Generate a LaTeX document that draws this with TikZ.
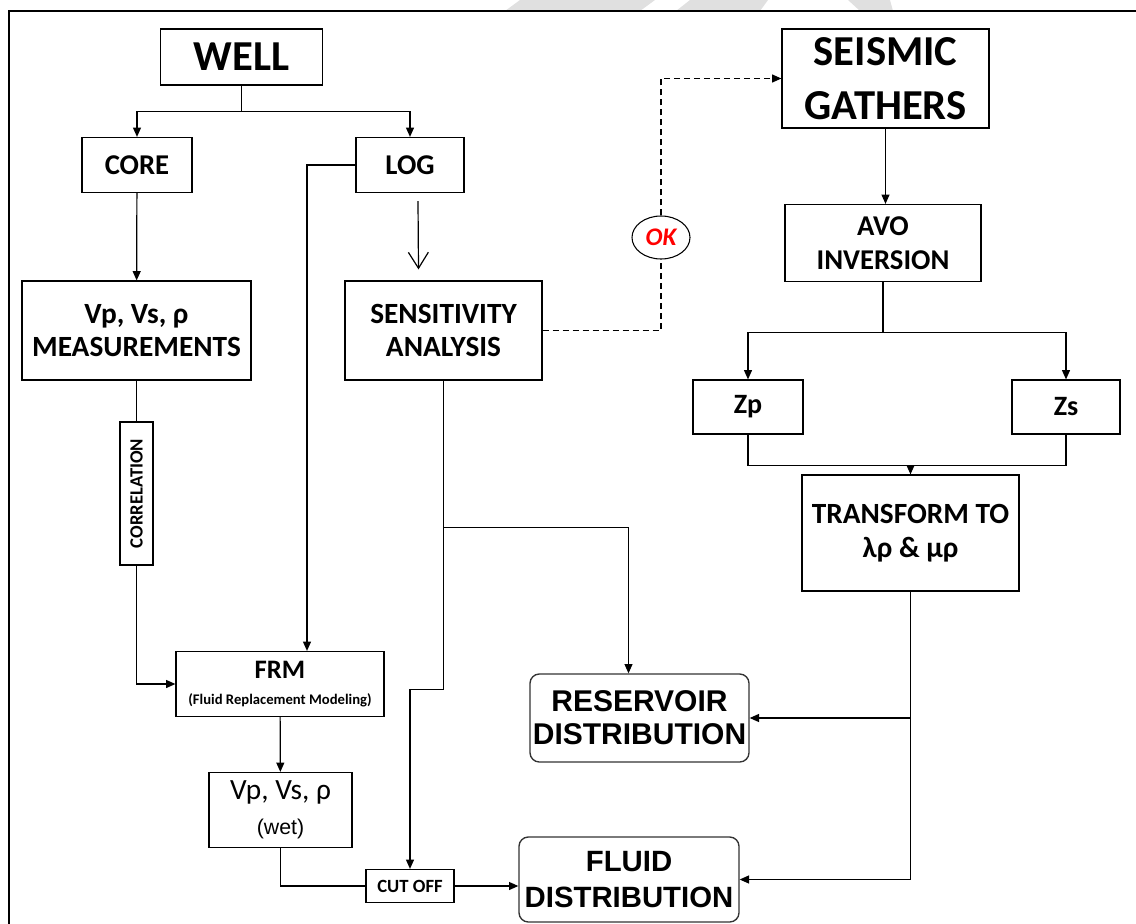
\documentclass[tikz,border=0pt]{standalone}
\usepackage{fontspec}
\setmainfont{Carlito}
\newfontfamily\arialfont{Liberation Sans}
\usetikzlibrary{arrows.meta,shapes.geometric}

\begin{document}
\begin{tikzpicture}[x=0.75pt, y=-0.75pt, line width=0.9pt,
  blk/.style={draw, align=center, inner sep=0pt},
  rblk/.style={blk, rounded corners=7pt, draw=black!80, line width=1pt},
  arr/.style={-{Triangle[length=7pt,width=6pt]}},
  oarr/.style={-{Straight Barb[length=12pt,width=15pt]}},
  dsh/.style={dash pattern=on 4.5pt off 3pt}]
  \useasboundingbox (0,0) rectangle (1136,924);
  % faint watermark above the frame
  \fill[black!12] (505,11) -- (520,0) -- (655,0) -- (640,11) -- cycle;
  \fill[black!12] (676,11) -- (690,0) -- (768,0) -- (760,11) -- cycle;
  \fill[black!12] (848,0) -- (890,0) -- (893,11) -- (860,11) -- cycle;
  \draw[line width=1.2pt] (9,924) -- (9,11) -- (1136,11);

  % well branch
  \node[blk, minimum width=122pt, minimum height=42pt, font=\fontsize{32}{36}\selectfont\bfseries] (WELL) at (241.5,57) {WELL};
  \node[blk, minimum width=82.5pt, minimum height=41.25pt, font=\fontsize{21.5}{25}\selectfont\bfseries] (CORE) at (137,165) {CORE};
  \node[blk, minimum width=81pt, minimum height=41.25pt, font=\fontsize{21.5}{25}\selectfont\bfseries] (LOG) at (410,165) {LOG};
  \node[blk, minimum width=171.75pt, minimum height=74.25pt, font=\fontsize{22}{25}\selectfont\bfseries] (MEAS) at (136.5,330.5) {Vp, Vs, ρ\\MEASUREMENTS};
  \node[blk, minimum width=147.75pt, minimum height=74.25pt, font=\fontsize{22}{25}\selectfont\bfseries] (SENS) at (443.5,330.5) {SENSITIVITY\\ANALYSIS};
  \node[blk, rotate=90, minimum width=107.25pt, minimum height=24.75pt, font=\fontsize{14}{16}\selectfont\bfseries] (CORR) at (136.5,493.5) {CORRELATION};
  \node[blk, minimum width=156pt, minimum height=48.75pt, font=\fontsize{20}{17}\selectfont\bfseries] (FRM) at (280,684) {FRM\\[3pt]{\fontsize{11}{12}\selectfont (Fluid Replacement Modeling)}};
  \node[blk, minimum width=107.25pt, minimum height=56.25pt, font=\fontsize{22}{26}\selectfont] (WET) at (280.5,810) {Vp, Vs, ρ\\{\arialfont\fontsize{16}{18}\selectfont (wet)}};
  \node[blk, minimum width=66pt, minimum height=24.75pt, font=\fontsize{14}{16}\selectfont\bfseries] (CUT) at (410,886) {CUT OFF};
  \node[rblk, minimum width=164.25pt, minimum height=66pt, font=\arialfont\fontsize{22.5}{25}\selectfont\bfseries] (RES) at (639.5,718) {RESERVOIR\\DISTRIBUTION};
  \node[rblk, minimum width=165pt, minimum height=63.75pt, font=\arialfont\fontsize{22}{27}\selectfont\bfseries] (FLUID) at (629,879.5) {FLUID\\DISTRIBUTION};

  % seismic branch
  \node[blk, minimum width=155.25pt, minimum height=74.25pt, font=\fontsize{32}{40}\selectfont\bfseries] (SEIS) at (885.5,78.5) {SEISMIC\\GATHERS};
  \node[draw, ellipse, line width=0.8pt, inner sep=0pt, minimum width=43.5pt, minimum height=32.25pt, text=red, font=\fontsize{19}{20}\selectfont\bfseries\itshape] (OK) at (661,237.5) {OK};
  \node[blk, minimum width=147pt, minimum height=57.75pt, font=\fontsize{21.5}{25.5}\selectfont\bfseries] (AVO) at (883,243) {AVO\\INVERSION};
  \node[blk, minimum width=82.5pt, minimum height=40.5pt, font=\fontsize{21}{24}\selectfont\bfseries] (ZP) at (748,407) {Zp};
  \node[blk, minimum width=81pt, minimum height=40.5pt, font=\fontsize{21}{24}\selectfont\bfseries] (ZS) at (1066,407) {Zs};
  \node[blk, minimum width=162.75pt, minimum height=87pt, font=\fontsize{22}{25.5}\selectfont\bfseries] (TRANS) at (910.5,533) {TRANSFORM TO\\λρ \& μρ};

  % connectors
  \draw (WELL.south) -- ++(0,26) coordinate (wj);
  \draw[arr] (wj) -| (CORE.north);
  \draw[arr] (wj) -| (LOG.north);
  \draw[arr] (CORE) -- (MEAS);
  \draw (MEAS) -- (CORR);
  \draw[arr] (CORR) |- (FRM.west);
  \draw[arr] (LOG.west) -| ([shift={(27,0)}]FRM.north);
  \draw[oarr] ([shift={(8,8)}]LOG.south) -- ([shift={(-25,-11)}]SENS.north);
  \draw[arr] (SENS.south) -- ++(0,309) -| (CUT.north);
  \draw[arr] (SENS.south) ++(0,147) -| ([shift={(-11,0)}]RES.north);
  \draw[arr] (FRM) -- (WET);
  \draw (WET.south) |- (CUT.west);
  \draw[arr] (CUT.east) -- (CUT.east -| FLUID.west);
  \draw[dsh] (SENS.east) -| (OK.south);
  \draw[dsh, arr] (OK.north) |- (SEIS.west);
  \draw[arr] (SEIS.south) -- (SEIS.south |- AVO.north);
  \draw (AVO.south) -- ++(0,50) coordinate (aj);
  \draw[arr] (aj) -| (ZP.north);
  \draw[arr] (aj) -| (ZS.north);
  \draw (ZP.south) -- ++(0,31) coordinate (zj) -| (ZS.south);
  \draw[arr] (zj -| TRANS.north) -- (TRANS.north);
  \draw[arr] (TRANS.south) |- (FLUID.east);
  \draw[arr] (TRANS.south |- RES.east) -- (RES.east);
\end{tikzpicture}
\end{document}
